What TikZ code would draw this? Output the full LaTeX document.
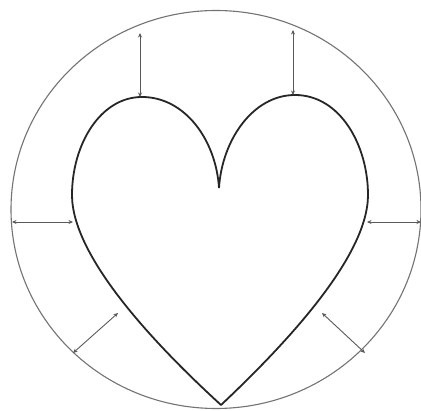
\documentclass[tikz,border=0pt]{standalone}
\usetikzlibrary{arrows.meta}
\begin{document}
\begin{tikzpicture}[x=1pt,y=-1pt,
  heartline/.style={line width=1.8pt,black!85,line join=round},
  ring/.style={line width=1.1pt,black!55},
  gap/.style={line width=0.9pt,black!65,{Stealth[length=4.5pt,width=4pt]}-{Stealth[length=4.5pt,width=4pt]}}]
\useasboundingbox (0,0) rectangle (421,411);
\fill[white] (0,0) rectangle (421,411);
% surrounding circle
\draw[ring] (216,209.5) ellipse [x radius=205, y radius=199];
% heart
\draw[heartline] (219,188)
  .. controls (216,140) and (185,97) .. (142,97)
  .. controls (100,97) and (72,145) .. (72,195)
  .. controls (72,255) and (150,340) .. (221,405)
  .. controls (290,340) and (368,255) .. (368,195)
  .. controls (368,145) and (340,95) .. (295,95)
  .. controls (253,95) and (222,140) .. (219,188);
% arrow end points
\coordinate (tlh) at (140,97);  \coordinate (tlc) at (140,33);
\coordinate (trh) at (293,95);  \coordinate (trc) at (293,30);
\coordinate (lh) at (73,222);   \coordinate (lc) at (12,222);
\coordinate (rh) at (367,222);  \coordinate (rc) at (421,222);
\coordinate (blh) at (118,313); \coordinate (blc) at (73,353);
\coordinate (brh) at (322,313); \coordinate (brc) at (365,353);
\draw[gap] (tlh) -- (tlc);
\draw[gap] (trh) -- (trc);
\draw[gap] (lh) -- (lc);
\draw[gap] (rh) -- (rc);
\draw[gap] (blh) -- (blc);
\draw[gap] (brh) -- (brc);
\end{tikzpicture}
\end{document}
